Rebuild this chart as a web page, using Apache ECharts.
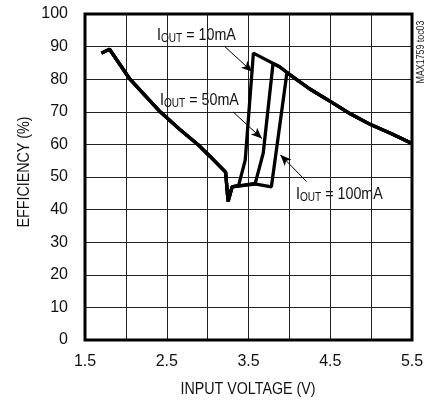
<!DOCTYPE html>
<html>
<head>
<meta charset="utf-8">
<script src="https://cdn.jsdelivr.net/npm/echarts@6/dist/echarts.min.js"></script>
<style>
html,body{margin:0;padding:0;background:#fff;}
#c{width:431px;height:403px;}
</style>
</head>
<body>
<div id="c"></div>
<script>
// Shared low-voltage portion (V, %)
const vLow = [1.70, 1.80, 2.05, 2.25, 2.42, 2.65, 2.88, 3.03, 3.22, 3.23, 3.25, 3.30];
const eLow = [88.0, 89.2, 80.0, 74.6, 70.0, 64.8, 60.0, 56.3, 51.5, 51.0, 42.5, 47.0];
// Branches per load current
const v10 = [3.38, 3.46, 3.56, 3.88];
const e10 = [47.5, 55.2, 88.0, 83.8];
const v50 = [3.58, 3.68, 3.80, 3.88];
const e50 = [47.8, 57.3, 84.8, 83.8];
const v100 = [3.56, 3.78, 3.97];
const e100 = [48.0, 47.0, 82.0];
// Shared high-voltage portion
const vHigh = [4.00, 4.25, 4.50, 4.75, 5.00, 5.25, 5.50];
const eHigh = [81.5, 77.0, 73.2, 69.3, 66.0, 63.3, 60.3];
// Axis ticks
const xTicks = [1.5, 2.5, 3.5, 4.5, 5.5];
const seriesNames = ['IOUT = 10mA', 'IOUT = 50mA', 'IOUT = 100mA'];

function pairs(vs, es) { return vs.map((v, i) => [v, es[i]]); }
function curve(vb, eb) {
  return pairs(vLow, eLow).concat(pairs(vb, eb), pairs(vHigh, eHigh));
}

const FONT = '"Liberation Sans", Arial, sans-serif';
const SX = 0.84;
const chart = echarts.init(document.getElementById('c'), null, {renderer: 'canvas'});

const lineStyle = {color: '#000', width: 3.3};
function mkSeries(name, data, extra) {
  return Object.assign({
    name, type: 'line', data, showSymbol: false, symbol: 'none',
    lineStyle, itemStyle: {color: '#000'}, silent: true, animation: false,
    z: 5
  }, extra || {});
}

const arrowStyle = {type: 'solid', color: '#000', width: 1};
function subLabel(txt) {
  return '{m|I}{s|OUT}{m| = ' + txt + '}';
}
const rich = {
  m: {fontSize: 17, lineHeight: 20, fontFamily: FONT, fill: '#111', color: '#111'},
  s: {fontSize: 12, lineHeight: 12, fontFamily: FONT, verticalAlign: 'bottom', fill: '#111', color: '#111'}
};

chart.setOption({
  animation: false,
  backgroundColor: '#fff',
  grid: {left: 85, right: 19, top: 14, bottom: 63, show: true, borderColor: '#000', borderWidth: 3, backgroundColor: 'transparent', z: 10},
  xAxis: {
    type: 'value', min: 1.5, max: 5.5, interval: 0.5,
    axisLine: {show: false}, axisTick: {show: false},
    splitLine: {show: true, lineStyle: {color: '#222', width: 1}},
    axisLabel: {
      margin: 14, fontSize: 16, fontFamily: FONT, color: '#111',
      formatter: v => xTicks.some(t => Math.abs(t - v) < 1e-6) ? v.toFixed(1) : ''
    }
  },
  yAxis: {
    type: 'value', min: 0, max: 100, interval: 10,
    axisLine: {show: false}, axisTick: {show: false},
    splitLine: {show: true, lineStyle: {color: '#222', width: 1}},
    axisLabel: {margin: 17, fontSize: 16, fontFamily: FONT, color: '#111'}
  },
  series: [
    mkSeries(seriesNames[0], curve(v10, e10), {
      markLine: {
        silent: true, symbol: ['none', 'arrow'], symbolSize: [7, 11],
        label: {show: false}, lineStyle: arrowStyle, animation: false,
        data: [
          [{coord: [3.21, 90.0]}, {coord: [3.545, 82.3]}],
          [{coord: [3.31, 70.0]}, {coord: [3.665, 61.8]}],
          [{coord: [4.21, 48.6]}, {coord: [3.89, 56.8]}]
        ]
      }
    }),
    mkSeries(seriesNames[1], curve(v50, e50)),
    mkSeries(seriesNames[2], curve(v100, e100))
  ],
  graphic: [
    {type: 'text', x: 157, y: 25, scaleX: SX, style: {text: subLabel('10mA'), rich, verticalAlign: 'top', align: 'left', fill: '#111'}},
    {type: 'text', x: 160, y: 90, scaleX: SX, style: {text: subLabel('50mA'), rich, verticalAlign: 'top', align: 'left', fill: '#111'}},
    {type: 'text', x: 296, y: 184, scaleX: SX, style: {text: subLabel('100mA'), rich, verticalAlign: 'top', align: 'left', fill: '#111'}},
    {type: 'text', x: 248, y: 389, scaleX: SX, style: {text: 'INPUT VOLTAGE (V)', font: '17px ' + FONT, fill: '#111', align: 'center', verticalAlign: 'middle'}},
    {type: 'text', x: 24, y: 172, rotation: Math.PI / 2, scaleX: SX, style: {text: 'EFFICIENCY (%)', font: '17px ' + FONT, fill: '#111', align: 'center', verticalAlign: 'middle'}},
    {type: 'text', x: 421.5, y: 52, rotation: Math.PI / 2, scaleX: SX, style: {text: 'MAX1759 toc03', font: '10.5px ' + FONT, fill: '#222', align: 'center', verticalAlign: 'middle'}}
  ]
});
</script>
</body>
</html>
